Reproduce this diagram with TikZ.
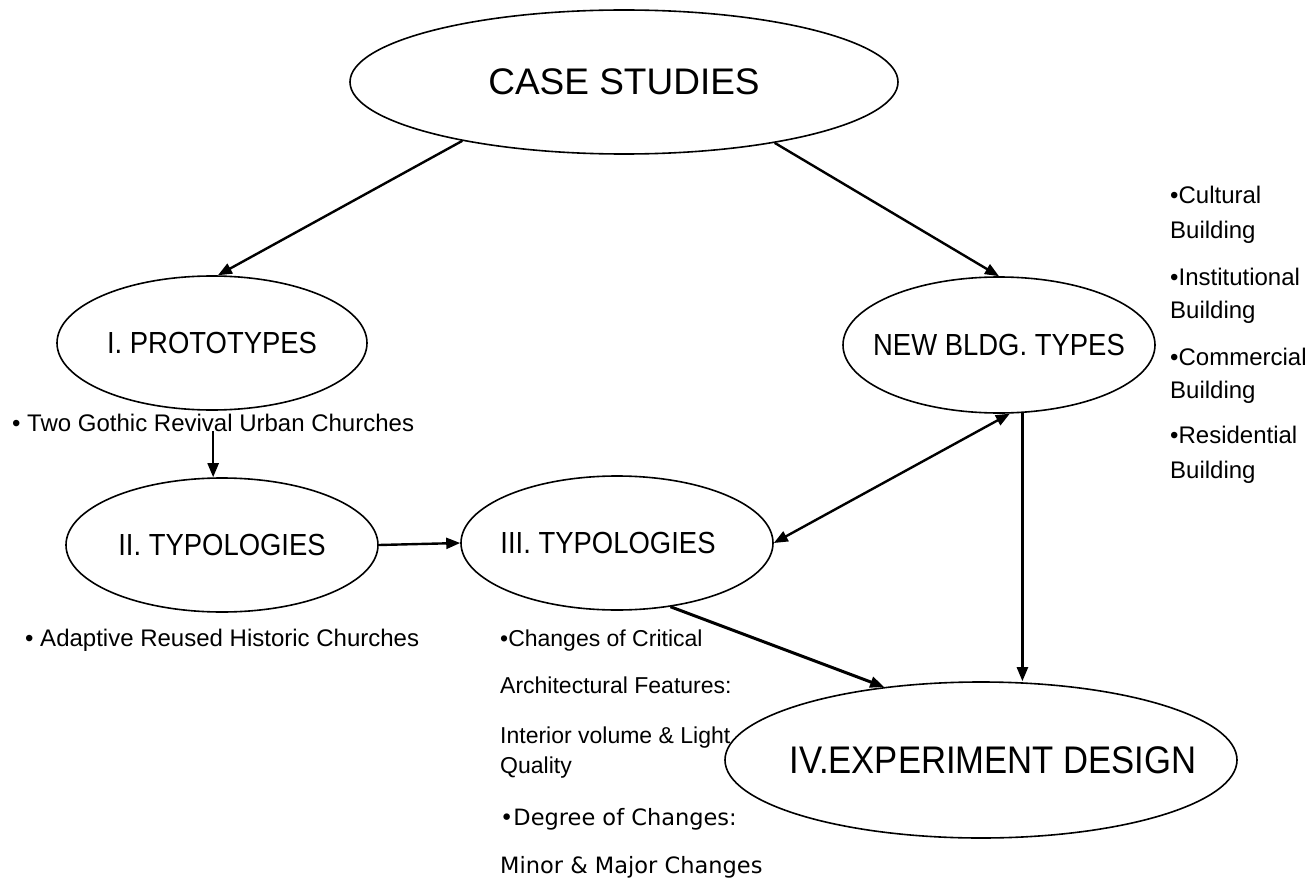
\documentclass[tikz,border=0pt]{standalone}
\usepackage{fontspec}
\setmainfont{Liberation Sans}
\newfontfamily\dvfont{DejaVu Sans}
\newfontfamily\narrowfont[FakeStretch=0.9]{Liberation Sans}
\usetikzlibrary{arrows.meta,shapes.geometric}
\begin{document}
\begin{tikzpicture}[x=1pt,y=-1pt,
  oval/.style={ellipse,draw,line width=1.6pt,inner sep=0pt},
  midfont/.style={font=\narrowfont\fontsize{30.5}{36}\selectfont},
  lbl/.style={inner sep=0pt,anchor=base west,font=\fontsize{24}{28}\selectfont},
  mlbl/.style={inner sep=0pt,anchor=base west,font=\fontsize{23}{28}\selectfont},
  conn/.style={line width=2.4pt,-{Triangle[length=14pt,width=11pt]}},
  dconn/.style={line width=2.4pt,{Triangle[length=14pt,width=11pt]}-{Triangle[length=14pt,width=11pt]}},
]
\useasboundingbox (0,0) rectangle (1312,880);
\fill[white] (0,0) rectangle (1312,880);

% ellipses
\node[oval,minimum width=548pt,minimum height=144pt,font=\fontsize{37}{44}\selectfont] (cs) at (624,82) {\makebox[0pt]{CASE STUDIES}};
\node[oval,minimum width=310pt,minimum height=134pt,midfont] (proto) at (212,343) {\makebox[0pt]{I. PROTOTYPES}};
\node[oval,minimum width=312pt,minimum height=134pt,midfont] (ii) at (222,545) {\makebox[0pt]{II. TYPOLOGIES}};
\node[oval,minimum width=312pt,minimum height=134pt,midfont] (iii) at (617,543) {\makebox[0pt]{\hspace*{-18pt}III. TYPOLOGIES}};
\node[oval,minimum width=312pt,minimum height=136pt,midfont] (new) at (999,345) {\makebox[0pt]{NEW BLDG. TYPES}};
\node[oval,minimum width=512pt,minimum height=156pt,font=\narrowfont\fontsize{38.5}{44}\selectfont] (iv) at (981,760) {\makebox[0pt]{\hspace*{24pt}IV.EXPERIMENT DESIGN}};

% left texts
\node[lbl] (gothic) at (12,431) {• Two Gothic Revival Urban Churches};
\node[lbl] (adapt) at (25,646) {• Adaptive Reused Historic Churches};

% middle texts
\node[mlbl] (m1) at (500,646) {•Changes of Critical};
\node[mlbl] (m2) at (500,693) {Architectural Features:};
\node[mlbl] (m3) at (500,743) {Interior volume \& Light};
\node[mlbl] (m4) at (500,773) {Quality};
\node[mlbl,font=\dvfont\fontsize{22.5}{28}\selectfont] (m5) at (500,825) {•Degree of Changes:};
\node[mlbl,font=\dvfont\fontsize{22.5}{28}\selectfont] (m6) at (500,873) {Minor \& Major Changes};

% right texts
\node[lbl] (r1) at (1170,203) {•Cultural};
\node[lbl] (r2) at (1170,238) {Building};
\node[lbl] (r3) at (1170,285) {•Institutional};
\node[lbl] (r4) at (1170,318) {Building};
\node[lbl] (r5) at (1170,365) {•Commercial};
\node[lbl] (r6) at (1170,398) {Building};
\node[lbl] (r7) at (1170,443) {•Residential};
\node[lbl] (r8) at (1170,478) {Building};

% connectors
\draw[conn] (cs.200.7) -- (proto.85);
\draw[conn] (cs.338) -- (new.90);
\draw[conn] (gothic.south) -- (gothic.south |- ii.north);
\draw[conn] (ii.east) -- (iii.west);
\draw[dconn] (new.279) -- (iii.east);
\draw[conn] (new.289.7) -- (new.289.7 |- iv.north);
\draw[conn,line width=3pt] (iii.310.7) -- (iv.143.4);
\end{tikzpicture}
\end{document}
